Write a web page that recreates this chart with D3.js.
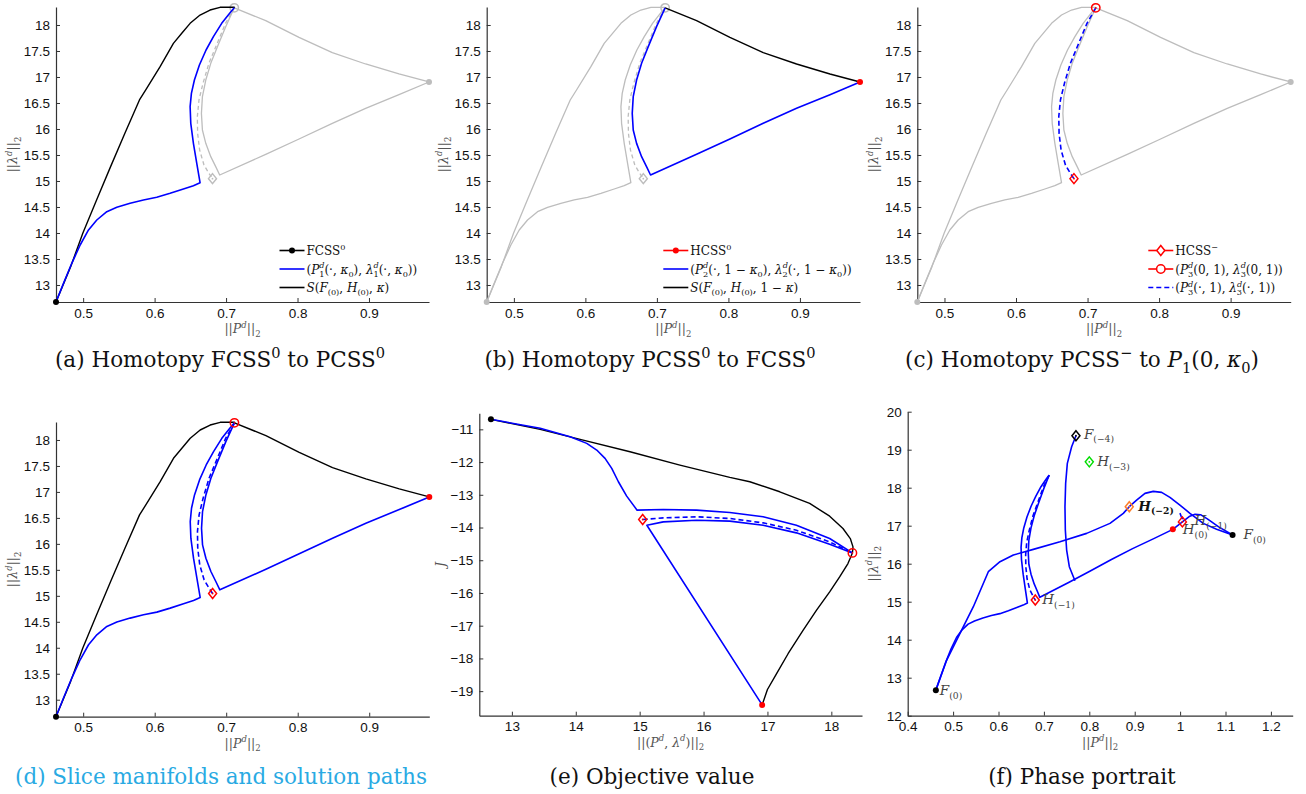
<!DOCTYPE html>
<html><head><meta charset="utf-8">
<script src="https://cdn.jsdelivr.net/npm/d3@7"></script>
<style>
body{margin:0;background:#fff;}
</style></head><body>
<svg id="chart" width="1306" height="794"></svg>
<script>
// ---------- data: (||P^d||_2, ||lambda^d||_2) ----------
const F0 = [0.462, 12.673];
const H0 = [0.984, 16.904];
const T0 = [0.7115, 18.33];
const D0 = [0.681, 15.045];

const sLeft = [[0.462,12.673],[0.4825,13.353],[0.4995,13.994],[0.5188,14.635],[0.5384,15.276],[0.5584,15.917],[0.5788,16.558],[0.5876,16.75],[0.6077,17.199],[0.6263,17.647],[0.638,17.84],[0.6497,18.032],[0.6636,18.192],[0.6776,18.288],[0.6916,18.34],[0.7115,18.34],[0.7115,18.33]];
const sRight = [[0.7115,18.33],[0.7555,18.083],[0.8021,17.763],[0.8487,17.468],[0.8953,17.25],[0.942,17.058],[0.984,16.904]];
const p1Path = [[0.462,12.673],[0.4725,13.032],[0.4841,13.417],[0.4958,13.769],[0.5075,14.058],[0.5191,14.25],[0.5331,14.41],[0.5471,14.494],[0.5657,14.571],[0.5844,14.635],[0.603,14.686],[0.6217,14.763],[0.6403,14.846],[0.6543,14.91],[0.6636,14.968],[0.659,15.34],[0.6543,15.724],[0.6506,16.109],[0.6497,16.429],[0.6515,16.686],[0.6557,16.942],[0.6627,17.231],[0.672,17.519],[0.6823,17.776],[0.6939,18.032],[0.7056,18.237],[0.7115,18.33]];
const p2Path = [[0.7115,18.33],[0.6995,17.968],[0.6879,17.583],[0.6786,17.263],[0.6716,16.942],[0.6669,16.622],[0.6655,16.301],[0.6669,15.981],[0.6716,15.724],[0.6786,15.468],[0.6855,15.276],[0.6911,15.115],[0.7555,15.513],[0.8021,15.808],[0.8487,16.109],[0.8953,16.397],[0.942,16.66],[0.984,16.904]];
const p3Path = [[0.7115,18.33],[0.6992,18.03],[0.6876,17.647],[0.676,17.263],[0.6677,16.878],[0.6621,16.558],[0.6598,16.237],[0.6602,15.917],[0.663,15.596],[0.6691,15.308],[0.676,15.147],[0.681,15.045]];

// ---------- data: objective value (||(P^d,lambda^d)||_2, J) ----------
const eStart = [12.672,-10.694];
const eEnd = [16.917,-19.42];
const eTop = [18.33,-14.776];
const eDiam = [15.047,-13.755];
const eBlackTop = [[12.672,-10.694],[13.443,-11.0],[14.068,-11.306],[14.849,-11.684],[15.63,-12.092],[16.411,-12.469],[16.724,-12.602],[17.193,-12.908],[17.661,-13.265],[17.974,-13.653],[18.182,-14.031],[18.297,-14.337],[18.339,-14.592],[18.33,-14.776]];
const eBlackBottom = [[18.33,-14.776],[18.26,-15.1],[18.13,-15.51],[17.974,-15.969],[17.766,-16.531],[17.557,-17.143],[17.323,-17.857],[17.141,-18.469],[17.0,-18.95],[16.917,-19.42]];
const eBlueUpper = [[12.672,-10.694],[13.443,-10.969],[13.911,-11.224],[14.172,-11.429],[14.328,-11.633],[14.458,-11.888],[14.563,-12.194],[14.667,-12.602],[14.797,-13.041],[14.96,-13.47],[15.37,-13.449],[15.891,-13.469],[16.411,-13.541],[16.932,-13.673],[17.453,-13.929],[17.974,-14.337],[18.33,-14.776]];
const eDashed = [[15.047,-13.755],[15.37,-13.704],[15.891,-13.673],[16.411,-13.724],[16.932,-13.857],[17.453,-14.082],[17.974,-14.439],[18.33,-14.776]];
const eBlueLower = [[18.33,-14.776],[17.974,-14.51],[17.453,-14.163],[16.932,-13.929],[16.411,-13.806],[15.891,-13.776],[15.37,-13.827],[15.113,-13.93],[16.917,-19.42]];

// ---------- data: phase portrait extras ----------
const fOuter = [[0.462,12.673],[0.4859,13.465],[0.5152,14.167],[0.5446,14.868],[0.5776,15.789],[0.6033,16.053],[0.6327,16.228],[0.6767,16.377],[0.7354,16.579],[0.7941,16.798],[0.8455,17.061],[0.8749,17.325],[0.888,17.5],[0.9042,17.675],[0.9226,17.851],[0.9409,17.904],[0.9593,17.877],[0.9776,17.746],[0.9996,17.544],[1.0217,17.325],[1.051,17.061],[1.0804,16.904],[1.1156,16.754]];
const fBump = [[0.984,16.904],[1.005,17.1],[1.02,17.24],[1.033,17.3],[1.045,17.29],[1.06,17.18],[1.085,16.97],[1.1156,16.754]];
const fF4 = [[0.7706,19.368],[0.7611,19.079],[0.7516,18.64],[0.7479,18.114],[0.7464,17.5],[0.7472,16.886],[0.7501,16.36],[0.756,15.921],[0.7684,15.553]];
const fTick = [[0.9996,17.33],[1.0025,17.24],[1.0055,17.17]];
const fF0b = [1.1156,16.754];
const fF4pt = [0.7706,19.368];
const fH3 = [0.80,18.68];
const fH2 = [0.888,17.5];
const fH1b = [1.005,17.1];

// ---------- ticks ----------
const xTicksP = [0.5,0.6,0.7,0.8,0.9];
const yTicksL = [13,13.5,14,14.5,15,15.5,16,16.5,17,17.5,18];
const xTicksE = [13,14,15,16,17,18];
const yTicksE = [-19,-18,-17,-16,-15,-14,-13,-12,-11];
const xTicksF = [0.4,0.5,0.6,0.7,0.8,0.9,1,1.1,1.2];
const yTicksF = [12,13,14,15,16,17,18,19,20];

const BLUE='#0000ff', RED='#ff0000', GRAY='#bdbdbd', BLACK='#000';
const SERIF='"DejaVu Serif", serif';
const SANS='"Liberation Sans", Arial, sans-serif';
const svg = d3.select('#chart');

function mtext(sel, x, y, parts, size, fill, anchor, extra){
  const t = sel.append('text').attr('x',x).attr('y',y).style('font-size',size+'px')
    .style('font-family',SERIF).attr('fill',fill).attr('text-anchor',anchor||'start');
  if(extra) extra(t);
  let cur = 0;
  parts.forEach(p=>{
    const [str, kind, dx] = p;
    let off=0, fs=size;
    if(kind.includes('^')){off=-0.42*size; fs=0.68*size;}
    if(kind.includes('_')){off=0.28*size; fs=0.68*size;}
    const ts = t.append('tspan').text(str).style('font-size',fs+'px').attr('dy',off-cur);
    cur = off;
    if(kind.includes('i')) ts.style('font-style','italic');
    if(kind.includes('b')) ts.style('font-weight','bold');
    if(dx) ts.attr('dx',dx);
  });
  return t;
}

function makePanel(p){
  const x = d3.scaleLinear().domain(p.xd).range([p.l,p.r]);
  const y = d3.scaleLinear().domain(p.yd).range([p.b,p.t]);
  const g = svg.append('g');
  const ax = g.append('g').attr('transform',`translate(0,${p.b})`)
    .call(d3.axisBottom(x).tickValues(p.xt).tickFormat(p.xf||(d=>String(d))).tickSizeInner(-4).tickSizeOuter(0).tickPadding(6));
  const ay = g.append('g').attr('transform',`translate(${p.l},0)`)
    .call(d3.axisLeft(y).tickValues(p.yt).tickFormat(p.yf||(d=>String(d))).tickSizeInner(-4).tickSizeOuter(0).tickPadding(6));
  [ax,ay].forEach(a=>{
    a.selectAll('.domain').attr('stroke','#333').attr('stroke-width',1.2);
    a.selectAll('.tick line').attr('stroke','#333');
    a.selectAll('.tick text').style('font-size','13.5px').attr('fill','#111').style('font-family',SANS);
  });
  return {g,x,y,p};
}
function pline(s, data, color, w, dash){
  s.g.append('path').attr('d', d3.line().x(d=>s.x(d[0])).y(d=>s.y(d[1]))(data))
    .attr('fill','none').attr('stroke',color).attr('stroke-width',w)
    .attr('stroke-linejoin','round').attr('stroke-dasharray',dash||null);
}
function dot(s, pt, color, r){ s.g.append('circle').attr('cx',s.x(pt[0])).attr('cy',s.y(pt[1])).attr('r',r||3).attr('fill',color); }
function ring(s, pt, color){
  s.g.append('circle').attr('cx',s.x(pt[0])).attr('cy',s.y(pt[1])).attr('r',4.2).attr('fill','none').attr('stroke',color).attr('stroke-width',1.5);
  s.g.append('circle').attr('cx',s.x(pt[0])).attr('cy',s.y(pt[1])).attr('r',0.9).attr('fill',color);
}
function diamond(s, pt, color, h){
  h = h||5;
  const cx=s.x(pt[0]), cy=s.y(pt[1]);
  s.g.append('path').attr('d',`M${cx},${cy-h}L${cx+h*0.8},${cy}L${cx},${cy+h}L${cx-h*0.8},${cy}Z`)
    .attr('fill','none').attr('stroke',color).attr('stroke-width',1.5);
  s.g.append('circle').attr('cx',cx).attr('cy',cy).attr('r',0.9).attr('fill',color);
}

// math label pieces
const lblP = [['||',''],['P','i'],['d','^i'],['||',''],['2','_']];
const lblL = [['||',''],['λ','i'],['d','^i'],['||',''],['2','_']];
function axisLabels(s, xparts, yparts, yoff){
  const p = s.p;
  mtext(svg, (p.l+p.r)/2, p.b+31, xparts, 12.5, '#555', 'middle');
  const yc = (p.t+p.b)/2;
  mtext(svg, 0, 0, yparts, 12.5, '#555', 'middle', t=>t.attr('transform',`translate(${p.l-yoff},${yc}) rotate(-90)`));
}
function caption(cx, y, parts, color){ mtext(svg, cx, y, parts, 21.5, color||'#111', 'middle'); }

const cfgP = {xd:[0.462,0.984], yd:[12.673,18.346], xt:xTicksP, yt:yTicksL};
// ---------- (a) ----------
const A = makePanel(Object.assign({l:56,r:429,t:7,b:302},cfgP));
pline(A,p2Path,GRAY,1.3); pline(A,sRight,GRAY,1.3); pline(A,p3Path,GRAY,1.3,'4,3');
diamond(A,D0,GRAY); ring(A,T0,GRAY); dot(A,H0,GRAY);
pline(A,sLeft,BLACK,1.4); pline(A,p1Path,BLUE,1.6); dot(A,F0,BLACK);
// ---------- (b) ----------
const B = makePanel(Object.assign({l:486.7,r:860,t:7,b:302},cfgP));
pline(B,p1Path,GRAY,1.3); pline(B,sLeft,GRAY,1.3); pline(B,p3Path,GRAY,1.3,'4,3');
diamond(B,D0,GRAY); ring(B,T0,GRAY); dot(B,F0,GRAY);
pline(B,sRight,BLACK,1.4); pline(B,p2Path,BLUE,1.6); dot(B,H0,RED);
// ---------- (c) ----------
const C = makePanel(Object.assign({l:917.3,r:1290.7,t:7,b:302},cfgP));
pline(C,p1Path,GRAY,1.3); pline(C,p2Path,GRAY,1.3); pline(C,sLeft,GRAY,1.3); pline(C,sRight,GRAY,1.3);
dot(C,F0,GRAY); dot(C,H0,GRAY);
pline(C,p3Path,BLUE,1.6,'5,3'); diamond(C,D0,RED); ring(C,T0,RED);
// ---------- (d) ----------
const Dp = makePanel(Object.assign({l:56,r:429.3,t:422,b:716.7},cfgP));
pline(Dp,sLeft,BLACK,1.4); pline(Dp,sRight,BLACK,1.4);
pline(Dp,p1Path,BLUE,1.6); pline(Dp,p2Path,BLUE,1.6); pline(Dp,p3Path,BLUE,1.6,'5,3');
ring(Dp,T0,RED); diamond(Dp,D0,RED); dot(Dp,H0,RED); dot(Dp,F0,BLACK);
// ---------- (e) ----------
const E = makePanel({l:479.3,r:862,t:413.3,b:715.7,xd:[12.49,18.48],yd:[-19.75,-10.51],xt:xTicksE,yt:yTicksE,yf:d=>'\u2212'+Math.abs(d)});
pline(E,eBlackTop,BLACK,1.4); pline(E,eBlackBottom,BLACK,1.4);
pline(E,eBlueUpper,BLUE,1.6); pline(E,eBlueLower,BLUE,1.6); pline(E,eDashed,BLUE,1.6,'5,3');
dot(E,eStart,BLACK); dot(E,eEnd,RED); ring(E,eTop,RED); diamond(E,eDiam,RED);
// ---------- (f) ----------
const Fp = makePanel({l:907.7,r:1292.7,t:411.7,b:715.7,xd:[0.4,1.248],yd:[12,20],xt:xTicksF,yt:yTicksF});
[p1Path,p2Path,fOuter,fBump,fF4,fTick].forEach(d=>pline(Fp,d,BLUE,1.6));
pline(Fp,p3Path,BLUE,1.6,'5,3');
dot(Fp,F0,BLACK); dot(Fp,fF0b,BLACK); dot(Fp,H0,RED);
diamond(Fp,fF4pt,BLACK); diamond(Fp,fH3,'#00dd00'); diamond(Fp,fH2,'#ff7f2a');
diamond(Fp,D0,RED); diamond(Fp,fH1b,RED);
function flabel(pt, dx, dy, parts, fill){ mtext(svg, Fp.x(pt[0])+dx, Fp.y(pt[1])+dy, parts, 13.5, fill||'#444', 'start'); }
flabel(F0,4,5,[['F','i'],['(0)','_']]);
flabel(fF0b,11,4,[['F','i'],['(0)','_']]);
flabel(fF4pt,8,3,[['F','i'],['(−4)','_']]);
flabel(fH3,8,4,[['H','i'],['(−3)','_']]);
flabel(fH2,9,4,[['H','ib'],['(−2)','_b']],'#111');
flabel(D0,7,4,[['H','i'],['(−1)','_']]);
flabel(fH1b,12,3,[['H','i'],['(−1)','_']]);
flabel(H0,10,5,[['H','i'],['(0)','_']]);

// ---------- axis labels ----------
[A,B,C,Dp].forEach(s=>axisLabels(s,lblP,lblL,39));
axisLabels(Fp,lblP,lblL,30);
axisLabels(E,[['||(',''],['P','i'],['d','^i'],[', ',''],['λ','i'],['d','^i'],[')||',''],['2','_']],[['J','i']],34);

// ---------- legends ----------
function legRow(x0, y, color, dash, marker, parts){
  svg.append('line').attr('x1',x0).attr('x2',x0+25).attr('y1',y).attr('y2',y).attr('stroke',color).attr('stroke-width',1.6).attr('stroke-dasharray',dash||null);
  const cx=x0+12.5;
  if(marker==='dot') svg.append('circle').attr('cx',cx).attr('cy',y).attr('r',3).attr('fill',color);
  if(marker==='ring') svg.append('circle').attr('cx',cx).attr('cy',y).attr('r',4.2).attr('fill','#fff').attr('stroke',color).attr('stroke-width',1.5);
  if(marker==='diamond') svg.append('path').attr('d',`M${cx},${y-5}L${cx+4},${y}L${cx},${y+5}L${cx-4},${y}Z`).attr('fill','#fff').attr('stroke',color).attr('stroke-width',1.5);
  mtext(svg, x0+27, y+4.5, parts, 12, '#111', 'start');
}
const legY = [250.5,269,287.5];
legRow(279.5,legY[0],BLACK,null,'dot',[['FCSS',''],['0','^']]);
legRow(279.5,legY[1],BLUE,null,null,[['(',''],['P','i'],['d','^i'],['1','_',-5.3],['(·, ',''],['κ','i'],['0','_'],['), ',''],['λ','i'],['d','^i'],['1','_',-5.3],['(·, ',''],['κ','i'],['0','_'],['))','']]);
legRow(279.5,legY[2],BLACK,null,null,[['S','i'],['(',''],['F','i'],['(0)','_'],[', ',''],['H','i'],['(0)','_'],[', ',''],['κ','i'],[')','']]);
legRow(663.3,legY[0],RED,null,'dot',[['HCSS',''],['0','^']]);
legRow(663.3,legY[1],BLUE,null,null,[['(',''],['P','i'],['d','^i'],['2','_',-5.3],['(·, 1 − ',''],['κ','i'],['0','_'],['), ',''],['λ','i'],['d','^i'],['2','_',-5.3],['(·, 1 − ',''],['κ','i'],['0','_'],['))','']]);
legRow(663.3,legY[2],BLACK,null,null,[['S','i'],['(',''],['F','i'],['(0)','_'],[', ',''],['H','i'],['(0)','_'],[', 1 − ',''],['κ','i'],[')','']]);
legRow(1148.3,legY[0],RED,null,'diamond',[['HCSS',''],['−','^']]);
legRow(1148.3,legY[1],RED,null,'ring',[['(',''],['P','i'],['d','^i'],['3','_',-5.3],['(0, 1), ',''],['λ','i'],['d','^i'],['3','_',-5.3],['(0, 1))','']]);
legRow(1148.3,legY[2],BLUE,'5,3',null,[['(',''],['P','i'],['d','^i'],['3','_',-5.3],['(·, 1), ',''],['λ','i'],['d','^i'],['3','_',-5.3],['(·, 1))','']]);

// ---------- captions ----------
caption(220,367,[['(a) Homotopy FCSS',''],['0','^'],[' to PCSS',''],['0','^']]);
caption(650,367,[['(b) Homotopy PCSS',''],['0','^'],[' to FCSS',''],['0','^']]);
caption(1082,367,[['(c) Homotopy PCSS',''],['−','^'],[' to ',''],['P','i'],['1','_'],['(0, ',''],['κ','i'],['0','_'],[')','']]);
caption(221,784,[['(d) Slice manifolds and solution paths','']],'#29aae3');
caption(652,784,[['(e) Objective value','']]);
caption(1082,784,[['(f) Phase portrait','']]);
</script>
</body></html>
